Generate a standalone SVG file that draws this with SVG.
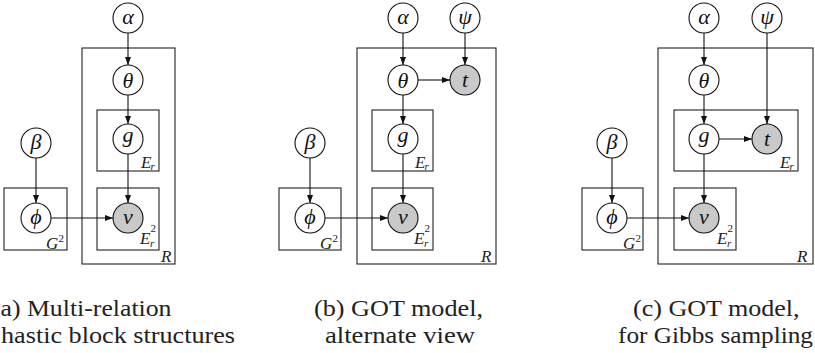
<svg xmlns="http://www.w3.org/2000/svg" width="815" height="353" viewBox="0 0 815 353">
  <defs>
    <marker id="arr" viewBox="0 0 8 6" refX="8" refY="3" markerWidth="8" markerHeight="6" markerUnits="userSpaceOnUse" orient="auto">
      <path d="M0,0 L8,3 L0,6 z" fill="#111"/>
    </marker>
    <style>
      text { font-family: Times New Roman, Liberation Serif, Tinos, DejaVu Serif, serif; }
      .node circle { fill: #fff; stroke: #111; stroke-width: 1.1; }
      .node.obs circle { fill: #c9c9c9; }
      .node text { font-style: italic; font-size: 22px; fill: #111; text-anchor: middle; }
      .plate rect { fill: none; stroke: #222; stroke-width: 1.1; }
      .plate text { font-style: italic; font-size: 17px; fill: #222; }
      .plate text.s { font-size: 11px; }
      .plate text.n { font-style: normal; font-size: 11px; }
      #edges line { stroke: #111; stroke-width: 1.1; marker-end: url(#arr); }
      .cap { font-size: 24px; fill: #222; }
    </style>
  </defs>

  <!-- plates -->
  <g id="plates">
    <!-- (a) -->
    <g class="plate" id="a-R"><rect x="82" y="48" width="93" height="216"/><text x="161" y="262">R</text></g>
    <g class="plate" id="a-Er"><rect x="97" y="110" width="62" height="61"/><text x="141" y="168">E</text><text class="s" x="150.5" y="169.5">r</text></g>
    <g class="plate" id="a-Er2"><rect x="97" y="188" width="62" height="62"/><text x="140" y="243.5">E</text><text class="n" x="150.5" y="231.5">2</text><text class="s" x="150" y="247">r</text></g>
    <g class="plate" id="a-G2"><rect x="4" y="188" width="63" height="62"/><text x="46" y="249">G</text><text class="n" x="58.5" y="242">2</text></g>
    <!-- (b) -->
    <g class="plate" id="b-R"><rect x="357" y="48" width="139" height="216"/><text x="481" y="262">R</text></g>
    <g class="plate" id="b-Er"><rect x="372" y="110" width="61" height="61"/><text x="415" y="168">E</text><text class="s" x="424.5" y="169.5">r</text></g>
    <g class="plate" id="b-Er2"><rect x="372" y="188" width="61" height="62"/><text x="414" y="243.5">E</text><text class="n" x="424.5" y="231.5">2</text><text class="s" x="424" y="247">r</text></g>
    <g class="plate" id="b-G2"><rect x="279" y="188" width="62" height="62"/><text x="320" y="249">G</text><text class="n" x="332.5" y="242">2</text></g>
    <!-- (c) -->
    <g class="plate" id="c-R"><rect x="658" y="48" width="155" height="216"/><text x="797" y="262">R</text></g>
    <g class="plate" id="c-Er"><rect x="674" y="110" width="124" height="61"/><text x="780" y="168">E</text><text class="s" x="789.5" y="169.5">r</text></g>
    <g class="plate" id="c-Er2"><rect x="674" y="188" width="62" height="62"/><text x="717" y="243.5">E</text><text class="n" x="727.5" y="231.5">2</text><text class="s" x="727" y="247">r</text></g>
    <g class="plate" id="c-G2"><rect x="582" y="188" width="61" height="62"/><text x="623" y="249">G</text><text class="n" x="635.5" y="242">2</text></g>
  </g>

  <!-- connectors -->
  <g id="edges">
    <!-- (a) -->
    <line x1="128" y1="33" x2="128" y2="65"/>
    <line x1="128" y1="95" x2="128" y2="124"/>
    <line x1="128" y1="154" x2="128" y2="203"/>
    <line x1="36" y1="158" x2="36" y2="203"/>
    <line x1="51" y1="218" x2="113" y2="218"/>
    <!-- (b) -->
    <line x1="403" y1="33" x2="403" y2="65"/>
    <line x1="465" y1="33" x2="465" y2="65"/>
    <line x1="418" y1="80" x2="450" y2="80"/>
    <line x1="403" y1="95" x2="403" y2="124"/>
    <line x1="403" y1="154" x2="403" y2="203"/>
    <line x1="310" y1="158" x2="310" y2="203"/>
    <line x1="325" y1="218" x2="388" y2="218"/>
    <!-- (c) -->
    <line x1="704" y1="33" x2="704" y2="65"/>
    <line x1="767" y1="33" x2="767" y2="124"/>
    <line x1="704" y1="95" x2="704" y2="124"/>
    <line x1="719" y1="139" x2="752" y2="139"/>
    <line x1="704" y1="154" x2="704" y2="203"/>
    <line x1="612" y1="158" x2="612" y2="203"/>
    <line x1="627" y1="218" x2="689" y2="218"/>
  </g>

  <!-- nodes, panel (a) -->
  <g class="node" id="a-alpha"><circle cx="128" cy="18" r="15"/><text x="128" y="23.5">α</text></g>
  <g class="node" id="a-theta"><circle cx="128" cy="80" r="15"/><text x="128" y="87.5">θ</text></g>
  <g class="node" id="a-g"><circle cx="128" cy="139" r="15"/><text x="128" y="142">g</text></g>
  <g class="node obs" id="a-v"><circle cx="128" cy="218" r="15"/><text x="128" y="223.5">v</text></g>
  <g class="node" id="a-beta"><circle cx="36" cy="143" r="15"/><text x="36" y="149">β</text></g>
  <g class="node" id="a-phi"><circle cx="36" cy="218" r="15"/><text x="36" y="224">ϕ</text></g>

  <!-- nodes, panel (b) -->
  <g class="node" id="b-alpha"><circle cx="403" cy="18" r="15"/><text x="403" y="23.5">α</text></g>
  <g class="node" id="b-psi"><circle cx="465" cy="18" r="15"/><text x="465" y="24">ψ</text></g>
  <g class="node" id="b-theta"><circle cx="403" cy="80" r="15"/><text x="403" y="87.5">θ</text></g>
  <g class="node obs" id="b-t"><circle cx="465" cy="80" r="15"/><text x="465" y="86.5">t</text></g>
  <g class="node" id="b-g"><circle cx="403" cy="139" r="15"/><text x="403" y="142">g</text></g>
  <g class="node obs" id="b-v"><circle cx="403" cy="218" r="15"/><text x="403" y="223.5">v</text></g>
  <g class="node" id="b-beta"><circle cx="310" cy="143" r="15"/><text x="310" y="149">β</text></g>
  <g class="node" id="b-phi"><circle cx="310" cy="218" r="15"/><text x="310" y="224">ϕ</text></g>

  <!-- nodes, panel (c) -->
  <g class="node" id="c-alpha"><circle cx="704" cy="18" r="15"/><text x="704" y="23.5">α</text></g>
  <g class="node" id="c-psi"><circle cx="767" cy="18" r="15"/><text x="767" y="24">ψ</text></g>
  <g class="node" id="c-theta"><circle cx="704" cy="80" r="15"/><text x="704" y="87.5">θ</text></g>
  <g class="node" id="c-g"><circle cx="704" cy="139" r="15"/><text x="704" y="142">g</text></g>
  <g class="node obs" id="c-t"><circle cx="767" cy="139" r="15"/><text x="767" y="145.5">t</text></g>
  <g class="node obs" id="c-v"><circle cx="704" cy="218" r="15"/><text x="704" y="223.5">v</text></g>
  <g class="node" id="c-beta"><circle cx="612" cy="143" r="15"/><text x="612" y="149">β</text></g>
  <g class="node" id="c-phi"><circle cx="612" cy="218" r="15"/><text x="612" y="224">ϕ</text></g>

  <!-- sub-figure captions -->
  <g id="captions">
    <text class="cap" x="0.5" y="316" textLength="171" lengthAdjust="spacingAndGlyphs">a) Multi-relation</text>
    <text class="cap" x="1" y="343" textLength="234" lengthAdjust="spacingAndGlyphs">hastic block structures</text>
    <text class="cap" x="314" y="316" textLength="169" lengthAdjust="spacingAndGlyphs">(b) GOT model,</text>
    <text class="cap" x="325" y="343" textLength="150" lengthAdjust="spacingAndGlyphs">alternate view</text>
    <text class="cap" x="633" y="316" textLength="166.5" lengthAdjust="spacingAndGlyphs">(c) GOT model,</text>
    <text class="cap" x="618" y="343" textLength="195" lengthAdjust="spacingAndGlyphs">for Gibbs sampling</text>
  </g>
</svg>
